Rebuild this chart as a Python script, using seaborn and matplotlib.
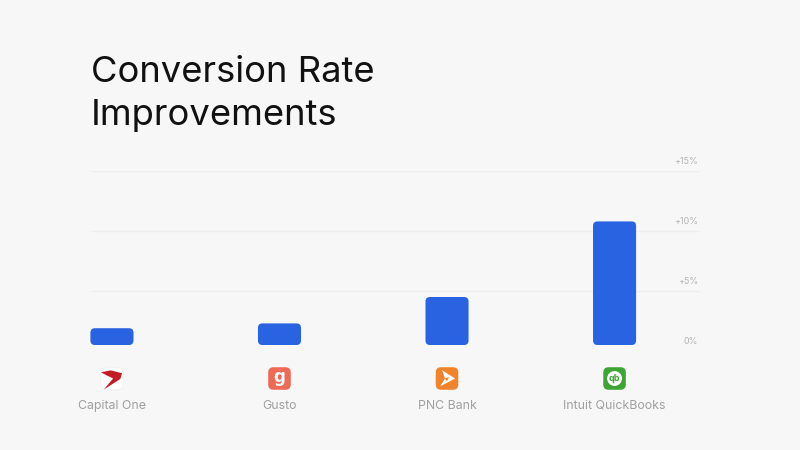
# Conversion rate improvements by customer, bars with small app icons underneath
import pandas as pd
import matplotlib.pyplot as plt
import seaborn as sns
from matplotlib.patches import FancyBboxPatch, Polygon, Circle

companies = ["Capital One", "Gusto", "PNC Bank", "Intuit QuickBooks"]
improvement = [1.4, 1.8, 4.0, 10.3]
baseline = 0.5
y_ticks = [0, 5, 10, 15]
y_labels = ["0%", "+5%", "+10%", "+15%"]
icon_colors = ["#ffffff", "#ef6a56", "#f0842c", "#3ea535"]

bg = "#f7f7f7"
sns.set_style("white")
plt.rcParams["font.family"] = ["Inter", "DejaVu Sans"]

fig = plt.figure(figsize=(8, 4.5), dpi=100, facecolor=bg)
ax = fig.add_axes([91 / 800, 99 / 450, 609 / 800, 180 / 450], facecolor="none")

df = pd.DataFrame({"company": companies, "improvement": improvement})
sns.barplot(data=df, x="company", y="improvement", color="#2a63e2", saturation=1,
            width=0.257, bottom=baseline, ax=ax)

ax.set_xlim(-0.125, 3.51)
ax.set_ylim(0, 15)

# swap the square bars for rounded ones, same geometry
x_px = 609 / 3.635
y_px = 180 / 15
for bar in list(ax.patches):
    rounded = FancyBboxPatch((bar.get_x(), bar.get_y()), bar.get_width(), bar.get_height(),
                             boxstyle=f"round,pad=0,rounding_size={4.5 / x_px}",
                             mutation_aspect=x_px / y_px, fc=bar.get_facecolor(), ec="none",
                             clip_on=False)
    bar.remove()
    ax.add_patch(rounded)

ax.set_xlabel("")
ax.set_ylabel("")
ax.set_yticks(y_ticks)
ax.set_yticklabels([])
ax.tick_params(axis="both", length=0)
ax.tick_params(axis="x", pad=35, labelsize=8.9, labelcolor="#a0a0a0")
ax.grid(axis="y", color="#eeeeee", lw=0.9)
ax.yaxis.get_gridlines()[0].set_visible(False)
ax.set_axisbelow(True)
sns.despine(ax=ax, left=True, bottom=True, top=True, right=True)

for val, lab in zip(y_ticks, y_labels):
    ax.annotate(lab, xy=(1, val), xycoords=ax.get_yaxis_transform(), xytext=(-1.2, 6.8),
                textcoords="offset points", ha="right", va="center", fontsize=6.4, color="#b4b4b4")

fig.text(91 / 800, 1 - 73 / 450, "Conversion Rate", fontsize=26.2, color="#111111", va="center")
fig.text(91 / 800, 1 - 115 / 450, "Improvements", fontsize=26.2, color="#111111", va="center")

# icons live in their own tiny axes under each bar
fig.canvas.draw()
for i, col in enumerate(icon_colors):
    cx = ax.transData.transform((i, 0))[0]
    ia = fig.add_axes([(cx - 12) / 800, (450 - 390.5) / 450, 24 / 800, 24 / 450])
    ia.set_xlim(0, 1)
    ia.set_ylim(0, 1)
    ia.axis("off")
    ia.add_patch(FancyBboxPatch((0.03, 0.03), 0.94, 0.94, boxstyle="round,pad=0,rounding_size=0.22",
                                fc=col, ec="#f0f0f0" if i == 0 else "none", lw=0.6))
    if i == 0:
        ia.add_patch(Polygon([(0.04, 0.76), (0.45, 0.84), (0.92, 0.72), (0.85, 0.48), (0.16, 0.04),
                              (0.55, 0.50), (0.30, 0.62)], fc="#c41c24", ec="none"))
    elif i == 1:
        ia.text(0.5, 0.56, "g", color="white", fontsize=12, fontweight="bold",
                family="DejaVu Sans", ha="center", va="center")
    elif i == 2:
        ia.add_patch(Polygon([(0.30, 0.84), (0.84, 0.50), (0.22, 0.18), (0.42, 0.50)], fc="white", ec="none"))
        ia.add_patch(Polygon([(0.40, 0.50), (0.58, 0.56), (0.50, 0.38)], fc=col, ec="none"))
    else:
        ia.add_patch(Circle((0.5, 0.5), 0.31, fc="white", ec="none"))
        ia.text(0.5, 0.49, "qb", color="#3ea535", fontsize=6.5, fontweight="bold", ha="center", va="center")

fig.savefig("out.png", dpi=100, facecolor=bg)
